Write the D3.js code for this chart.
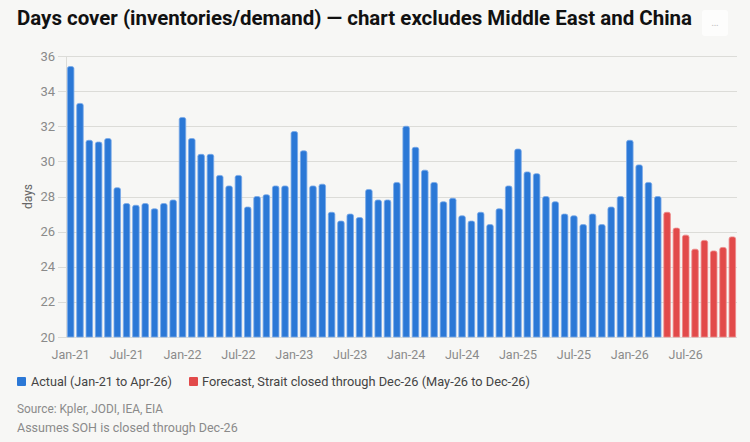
<!DOCTYPE html>
<html lang="en">
<head>
<meta charset="UTF-8">
<title>Days cover</title>
<script src="https://d3js.org/d3.v7.min.js"></script>
<style>
  body { margin: 0; background: #f7f7f5; }
  svg { display: block; font-family: Roboto, "DejaVu Sans", sans-serif; }
</style>
</head>
<body>
<script>
// monthly days cover, Jan-21 .. Apr-26 (actual)
const actualValues = [
  35.4, 33.3, 31.2, 31.1, 31.3, 28.5, 27.6, 27.5, 27.6, 27.3, 27.6, 27.8,
  32.5, 31.3, 30.4, 30.4, 29.2, 28.6, 29.2, 27.4, 28.0, 28.1, 28.6, 28.6,
  31.7, 30.6, 28.6, 28.7, 27.1, 26.6, 27.0, 26.8, 28.4, 27.8, 27.8, 28.8,
  32.0, 30.8, 29.5, 28.8, 27.7, 27.9, 26.9, 26.6, 27.1, 26.4, 27.3, 28.6,
  30.7, 29.4, 29.3, 28.0, 27.7, 27.0, 26.9, 26.4, 27.0, 26.4, 27.4, 28.0,
  31.2, 29.8, 28.8, 28.0
];
// May-26 .. Dec-26 (forecast)
const forecastValues = [27.1, 26.2, 25.8, 25.0, 25.5, 24.9, 25.1, 25.7];
const yTicks = [20, 22, 24, 26, 28, 30, 32, 34, 36];
const seriesNames = ["Actual (Jan-21 to Apr-26)", "Forecast, Strait closed through Dec-26 (May-26 to Dec-26)"];
const notes = ["Source: Kpler, JODI, IEA, EIA", "Assumes SOH is closed through Dec-26"];

const monthNames = ["Jan","Feb","Mar","Apr","May","Jun","Jul","Aug","Sep","Oct","Nov","Dec"];
const data = actualValues.map(v => ({ v, type: 0 }))
  .concat(forecastValues.map(v => ({ v, type: 1 })));
data.forEach((d, i) => {
  d.label = monthNames[i % 12] + "-" + (21 + Math.floor(i / 12));
});

const width = 750, height = 442;
const colors = ["#2b78d6", "#e24a4a"];
const edge = ["#7aaae8", "#ee8a8a"];

const svg = d3.select("body").append("svg")
  .attr("width", width).attr("height", height);

svg.append("rect").attr("width", width).attr("height", height).attr("fill", "#f7f7f5");

function fit(sel, w, force) {
  const n = sel.node();
  if (force || n.getComputedTextLength() > w) {
    sel.attr("textLength", w).attr("lengthAdjust", "spacingAndGlyphs");
  }
  return sel;
}

// title
fit(svg.append("text")
  .attr("x", 17).attr("y", 25)
  .attr("font-size", 20).attr("font-weight", 700).attr("fill", "#111")
  .text("Days cover (inventories/demand) \u2014 chart excludes Middle East and China"), 675, true);

// menu button
svg.append("rect").attr("x", 702).attr("y", 10).attr("width", 26).attr("height", 26)
  .attr("rx", 3).attr("fill", "#fdfdfc");
svg.append("text").attr("x", 715).attr("y", 26).attr("text-anchor", "middle")
  .attr("font-size", 11).attr("fill", "#c4c4c4").text("\u2026");

const x = d3.scaleBand()
  .domain(d3.range(data.length))
  .range([66, 737])
  .paddingInner(0.3).paddingOuter(0.15);

const y = d3.scaleLinear().domain([20, 36]).range([337, 56]);

// grid
svg.append("g").selectAll("line").data(yTicks).join("line")
  .attr("x1", 58).attr("x2", 737)
  .attr("y1", d => Math.round(y(d)) + 0.5).attr("y2", d => Math.round(y(d)) + 0.5)
  .attr("stroke", "#dcdcd8").attr("stroke-width", 1);

svg.append("line").attr("x1", 66.5).attr("x2", 66.5).attr("y1", 56).attr("y2", 337)
  .attr("stroke", "#dcdcd8");

// y tick labels
svg.append("g").selectAll("text").data(yTicks).join("text")
  .attr("x", 55).attr("y", d => y(d)).attr("dy", "0.35em")
  .attr("text-anchor", "end").attr("font-size", 13).attr("fill", "#8a8a8a")
  .text(d => d);

svg.append("text")
  .attr("transform", `translate(32,${(y(36) + y(20)) / 2}) rotate(-90)`)
  .attr("text-anchor", "middle").attr("font-size", 12).attr("fill", "#666")
  .text("days");

// bars with rounded tops
const r = 2;
svg.append("g").selectAll("path").data(data).join("path")
  .attr("d", (d, i) => {
    const x0 = x(i), w = x.bandwidth(), yt = y(d.v), yb = y(20);
    return `M${x0},${yb}V${yt + r}Q${x0},${yt} ${x0 + r},${yt}H${x0 + w - r}Q${x0 + w},${yt} ${x0 + w},${yt + r}V${yb}Z`;
  })
  .attr("fill", d => colors[d.type])
  .attr("stroke", d => edge[d.type]).attr("stroke-width", 0.8);

// x labels every 6 months
svg.append("g").selectAll("text").data(data.filter((d, i) => i % 6 === 0)).join("text")
  .attr("x", d => x(data.indexOf(d)) + x.bandwidth() / 2)
  .attr("y", 359).attr("text-anchor", "middle")
  .attr("font-size", 12.5).attr("fill", "#8a8a8a")
  .text(d => d.label);

// legend
const lg = svg.append("g");
const legendPos = [[17, 31, 141], [189, 202, 328]];
seriesNames.forEach((name, k) => {
  lg.append("rect").attr("x", legendPos[k][0]).attr("y", 377).attr("width", 9).attr("height", 9)
    .attr("rx", 1).attr("fill", colors[k]);
  fit(lg.append("text").attr("x", legendPos[k][1]).attr("y", 386)
    .attr("font-size", 13).attr("fill", "#444").text(name), legendPos[k][2]);
});

// notes
notes.forEach((t, k) => {
  fit(svg.append("text").attr("x", 17).attr("y", 413 + k * 19)
    .attr("font-size", 12.5).attr("fill", "#8a8a8a").text(t), k === 0 ? 146 : 222);
});
</script>
</body>
</html>
